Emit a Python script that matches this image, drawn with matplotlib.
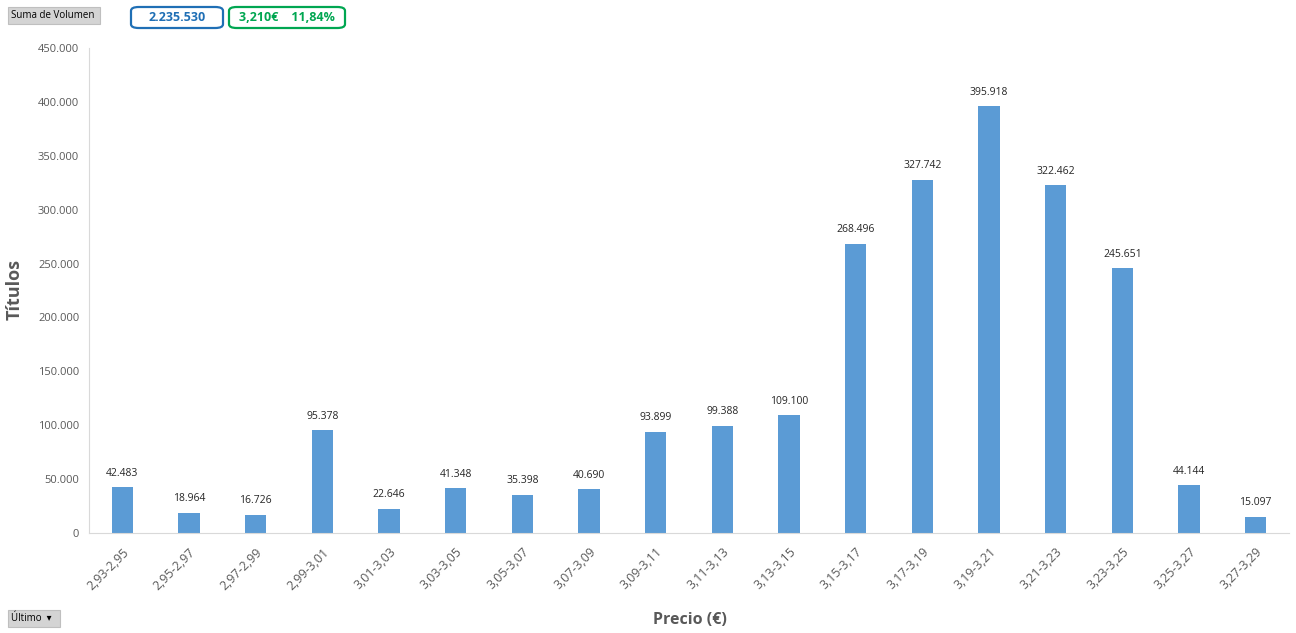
import matplotlib.pyplot as plt
from matplotlib.patches import FancyBboxPatch, Rectangle
import numpy as np

plt.rcParams['font.family'] = ['Open Sans', 'DejaVu Sans']

categories = ['2,93-2,95', '2,95-2,97', '2,97-2,99', '2,99-3,01', '3,01-3,03', '3,03-3,05',
              '3,05-3,07', '3,07-3,09', '3,09-3,11', '3,11-3,13', '3,13-3,15', '3,15-3,17',
              '3,17-3,19', '3,19-3,21', '3,21-3,23', '3,23-3,25', '3,25-3,27', '3,27-3,29']
volumes = [42483, 18964, 16726, 95378, 22646, 41348, 35398, 40690, 93899, 99388,
           109100, 268496, 327742, 395918, 322462, 245651, 44144, 15097]
y_ticks = [0, 50000, 100000, 150000, 200000, 250000, 300000, 350000, 400000, 450000]


def fmt(v):
    return f"{v:,}".replace(",", ".")


fig = plt.figure(figsize=(12.96, 6.33), dpi=100)
ax = fig.add_axes([89 / 1296, 1 - 533 / 633, 1200 / 1296, 485 / 633])

x = np.arange(len(categories))
ax.bar(x, volumes, width=0.32, color='#5B9BD5')
for xi, v in zip(x, volumes):
    ax.text(xi, v + 8000, fmt(v), ha='center', va='bottom', fontsize=7.5, color='#262626')

ax.set_xlim(-0.5, len(categories) - 0.5)
ax.set_ylim(0, 450000)
ax.set_yticks(y_ticks)
ax.set_yticklabels([fmt(t) for t in y_ticks], fontsize=8, color='#595959')
ax.set_xticks(x)
ax.set_xticklabels(categories, rotation=45, ha='right', rotation_mode='anchor',
                   fontsize=9, color='#595959')
ax.tick_params(axis='x', length=0, pad=9)
ax.tick_params(axis='y', length=0, pad=7)

for s in ['top', 'right']:
    ax.spines[s].set_visible(False)
ax.spines['left'].set_color('#D9D9D9')
ax.spines['bottom'].set_color('#D9D9D9')

fig.text(15 / 1296, 1 - 290 / 633, 'Títulos', rotation=90, ha='center', va='center',
         fontsize=13, fontweight='bold', color='#595959')
fig.text(690 / 1296, 1 - 620 / 633, 'Precio (€)', ha='center', va='center',
         fontsize=11.5, fontweight='bold', color='#595959')

# pivot buttons
fig.patches.append(Rectangle((8 / 1296, 1 - 24 / 633), 92 / 1296, 17 / 633,
                             transform=fig.transFigure, facecolor='#D4D4D4',
                             edgecolor='#BFBFBF', lw=0.8))
fig.text(11 / 1296, 1 - 15.5 / 633, 'Suma de Volumen', ha='left', va='center',
         fontsize=7, color='#000000')
fig.patches.append(Rectangle((8 / 1296, 1 - 627 / 633), 52 / 1296, 17 / 633,
                             transform=fig.transFigure, facecolor='#D4D4D4',
                             edgecolor='#BFBFBF', lw=0.8))
fig.text(11 / 1296, 1 - 618.5 / 633, 'Último  ▾', ha='left', va='center',
         fontsize=7, color='#000000')

# summary boxes
fig.patches.append(FancyBboxPatch((131 / 1296, 1 - 28 / 633), 92 / 1296, 21 / 633,
                                  boxstyle='round,pad=0,rounding_size=0.006',
                                  transform=fig.transFigure, facecolor='white',
                                  edgecolor='#1F6FB5', lw=1.6))
fig.text(177 / 1296, 1 - 17.5 / 633, '2.235.530', ha='center', va='center',
         fontsize=9, fontweight='bold', color='#1F6FB5')
fig.patches.append(FancyBboxPatch((229 / 1296, 1 - 28 / 633), 116 / 1296, 21 / 633,
                                  boxstyle='round,pad=0,rounding_size=0.006',
                                  transform=fig.transFigure, facecolor='white',
                                  edgecolor='#00A651', lw=1.6))
fig.text(287 / 1296, 1 - 17.5 / 633, '3,210€    11,84%', ha='center', va='center',
         fontsize=9, fontweight='bold', color='#00A651')

fig.savefig('out.png', dpi=100)
